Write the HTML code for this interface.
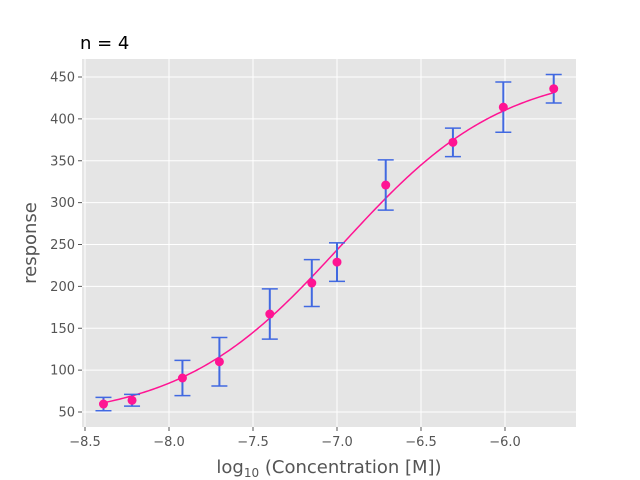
<!DOCTYPE html>
<html><head><meta charset="utf-8"><style>
body{margin:0;background:#fff;}
svg{display:block;font-family:"DejaVu Sans","Liberation Sans",sans-serif;}
</style></head><body>
<svg id="chart" width="640" height="480">
<rect x="0" y="0" width="640" height="480" fill="#fff"/>
<rect x="82" y="59" width="494" height="368" fill="#e5e5e5"/>
<g id="grid"></g>
<g id="ticks"></g>
<g id="curve"></g>
<g id="marks"></g>
<text x="80" y="49" font-size="18" fill="#000">n = 4</text>
<text x="329" y="473" font-size="18" fill="#555" text-anchor="middle">log<tspan font-size="12" dy="4">10</tspan><tspan dy="-4"> (Concentration [M])</tspan></text>
<text x="36" y="243" font-size="18" fill="#555" text-anchor="middle" transform="rotate(-90 36 243)">response</text>
</svg>
<script>
const xTicks=[-8.5,-8.0,-7.5,-7.0,-6.5,-6.0];
const xTickLabels=["−8.5","−8.0","−7.5","−7.0","−6.5","−6.0"];
const yTicks=[50,100,150,200,250,300,350,400,450];
const logConc=[-8.39,-8.22,-7.92,-7.70,-7.40,-7.15,-7.00,-6.71,-6.31,-6.01,-5.71];
const responses=[59.5,64,90.6,110,167,204,229,321,372,414,436];
const errors=[8,7,21,29,30,28,23,30,17,30,17];
const fitParams=[40,460,-6.97,0.9]; // bottom, top, logEC50, hill
const NS="http://www.w3.org/2000/svg";
function sx(v){return 85+(v+8.5)*168;}
function sy(v){return 412-(v-50)*0.8375;}
function mk(t,a,p){const e=document.createElementNS(NS,t);for(const k in a)e.setAttribute(k,a[k]);p.appendChild(e);return e;}
const grid=document.getElementById('grid'),ticks=document.getElementById('ticks');
xTicks.forEach((v,i)=>{
 const l=mk('line',{x1:sx(v),x2:sx(v),y1:59,y2:427,stroke:'#fff','stroke-width':1},grid);
 
 
 const tk=mk('line',{x1:sx(v),x2:sx(v),y1:427,y2:431,stroke:'#555'},ticks);
 
 
 const t=mk('text',{x:sx(v),y:446,'font-size':13,fill:'#555','text-anchor':'middle'},ticks);
 t.textContent=xTickLabels[i];
 
 
});
yTicks.forEach(v=>{
 const l=mk('line',{x1:82,x2:576,y1:sy(v),y2:sy(v),stroke:'#fff','stroke-width':1},grid);
 
 
 const tk=mk('line',{x1:78,x2:82,y1:sy(v),y2:sy(v),stroke:'#555'},ticks);
 
 
 const t=mk('text',{x:75,y:sy(v)+4.5,'font-size':13,fill:'#555','text-anchor':'end'},ticks);
 t.textContent=v;
 
 
});
function f(x){const[b,t,c,h]=fitParams;return b+(t-b)/(1+Math.pow(10,(c-x)*h));}
let d='';const x0=logConc[0],x1=logConc[logConc.length-1];
for(let i=0;i<=200;i++){const x=x0+(x1-x0)*i/200;d+=(i?'L':'M')+sx(x).toFixed(2)+','+sy(f(x)).toFixed(2);}
const cp=mk('path',{d:d,fill:'none',stroke:'#ff1493','stroke-width':1.5},document.getElementById('curve'));


const marks=document.getElementById('marks');
logConc.forEach((x,i)=>{
 const px=sx(x),y=responses[i],e=errors[i];
 const g=mk('g',{},marks);
 
 
 mk('line',{x1:px,x2:px,y1:sy(y-e),y2:sy(y+e),stroke:'#4169e1','stroke-width':2},g);
 mk('line',{x1:px-8,x2:px+8,y1:sy(y-e),y2:sy(y-e),stroke:'#4169e1','stroke-width':1.5},g);
 mk('line',{x1:px-8,x2:px+8,y1:sy(y+e),y2:sy(y+e),stroke:'#4169e1','stroke-width':1.5},g);
 mk('circle',{cx:px,cy:sy(y),r:4.5,fill:'#ff1493'},g);
});
</script>
</body></html>
